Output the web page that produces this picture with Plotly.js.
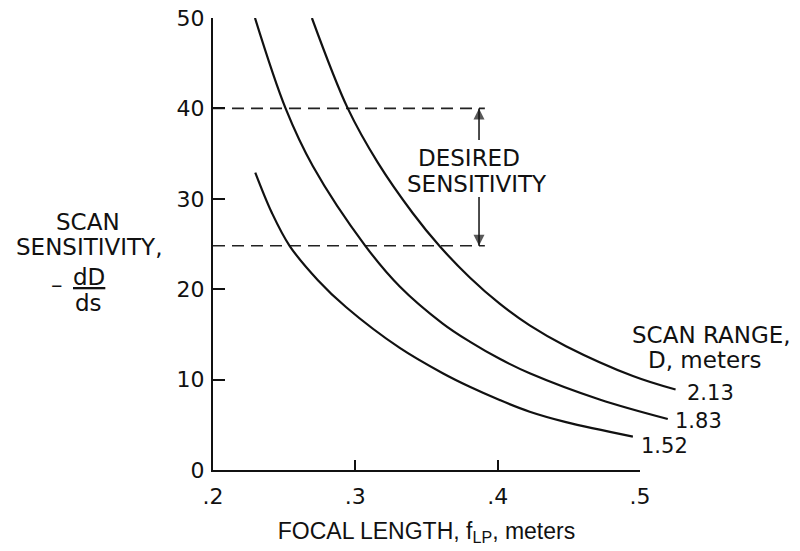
<!DOCTYPE html>
<html>
<head>
<meta charset="utf-8">
<script src="https://cdn.plot.ly/plotly-3.0.1.min.js"></script>
<style>html,body{margin:0;padding:0;background:#fff;}#chart{width:800px;height:551px;}</style>
</head>
<body>
<div id="chart"></div>
<script>
// ---- data ----
var rangeLabels = ['2.13', '1.83', '1.52'];
var focal213 = [0.2695, 0.2947, 0.3158, 0.3404, 0.359, 0.3804, 0.4014, 0.4225, 0.448, 0.495, 0.525];
var sens213  = [50, 40, 34.0, 28.4, 24.8, 21.3, 18.4, 16.0, 13.7, 10.4, 8.9];
var focal183 = [0.2295, 0.251, 0.2702, 0.307, 0.3312, 0.3614, 0.3804, 0.4014, 0.4225, 0.4716, 0.5195];
var sens183  = [50, 40, 33.6, 24.8, 20.3, 16.2, 14.2, 12.3, 10.7, 7.8, 5.64];
var focal152 = [0.2297, 0.2415, 0.2538, 0.2737, 0.2936, 0.3312, 0.3614, 0.3804, 0.4014, 0.4225, 0.448, 0.495];
var sens152  = [32.9, 28.4, 24.8, 21.0, 18.0, 13.5, 10.7, 9.2, 7.74, 6.45, 5.3, 3.7];
var desiredHigh = 40;
var desiredLow = 24.8;
var desiredXEnd = 0.391;
var arrowX = 0.3869;
var arrowTailHigh = 36.5;
var arrowTailLow = 30.2;
var xTickVals = [0.2, 0.3, 0.4, 0.5];
var xTickText = ['.2', '.3', '.4', '.5'];
var yTickVals = [0, 10, 20, 30, 40, 50];
var yTickText = ['0', '10', '20', '30', '40', '50'];

var INK = '#111111';
var LETTER = 'DejaVu Sans, Liberation Sans, sans-serif';
var TYPED = 'Liberation Sans, Arial, sans-serif';

function curve(xs, ys) {
  return {x: xs, y: ys, xaxis: 'x2', yaxis: 'y', type: 'scatter', mode: 'lines',
    line: {color: INK, width: 2.2, shape: 'spline', smoothing: 1}, hoverinfo: 'skip', showlegend: false};
}
function dashed(yv) {
  return {x: [xTickVals[0], desiredXEnd], y: [yv, yv], xaxis: 'x', yaxis: 'y', type: 'scatter', mode: 'lines',
    line: {color: '#222', width: 1.6, dash: '12px,7px'}, hoverinfo: 'skip', showlegend: false};
}
function arrow(tip, tail, sym) {
  return {x: [arrowX, arrowX], y: [tip, tail], xaxis: 'x', yaxis: 'y', type: 'scatter', mode: 'lines+markers',
    line: {color: INK, width: 1.5},
    marker: {symbol: [sym, 'line-ew'], size: [11, 0.1], color: INK, line: {width: 0, color: INK}},
    hoverinfo: 'skip', showlegend: false};
}

var data = [
  dashed(desiredHigh), dashed(desiredLow),
  arrow(desiredHigh, arrowTailHigh, 'arrow-up'), arrow(desiredLow, arrowTailLow, 'arrow-down'),
  curve(focal213, sens213), curve(focal183, sens183), curve(focal152, sens152)
];

var L = 213, R = 40, T = 18, B = 81, W = 800, H = 551;
var pw = W - L - R, ph = H - T - B;
var pxPerUnit = 427 / 0.3;
function px2paperX(px) { return (px - L) / pw; }
function px2paperY(py) { return (T + ph - py) / ph; }

function txt(text, px, py, size, font) {
  return {text: text, xref: 'paper', yref: 'paper', x: px2paperX(px), y: px2paperY(py),
    showarrow: false, xanchor: 'center', yanchor: 'middle',
    font: {family: font || LETTER, size: size || 23, color: INK}};
}

var ends = [[focal213, sens213, 35, -3], [focal183, sens183, 31, -2], [focal152, sens152, 32, -9]];
var annotations = [];
ends.forEach(function (e, i) {
  var n = e[0].length;
  annotations.push({text: rangeLabels[i], xref: 'x2', yref: 'y', x: e[0][n - 1], y: e[1][n - 1],
    xshift: e[2], yshift: e[3], showarrow: false, xanchor: 'center', yanchor: 'middle',
    font: {family: LETTER, size: 21, color: INK}});
});
annotations.push(txt('SCAN RANGE,', 711, 335));
annotations.push(txt('D, meters', 705, 360));
annotations.push(txt('DESIRED', 469, 157.5));
annotations.push(txt('SENSITIVITY', 476.7, 184));
annotations.push(txt('SCAN', 88.3, 221.5));
annotations.push(txt('SENSITIVITY,', 89, 246.7));
annotations.push(txt('<u>dD</u>', 88.5, 277));
annotations.push(txt('ds', 88, 303));
annotations.push(txt('\u2013', 57, 285));

var layout = {
  width: W, height: H,
  margin: {l: L, r: R, t: T, b: B, pad: 0},
  paper_bgcolor: '#fff', plot_bgcolor: 'rgba(0,0,0,0)',
  showlegend: false,
  xaxis: {domain: [0, 427 / pw], range: [0.2, 0.5], anchor: 'y',
    tickvals: xTickVals, ticktext: xTickText, ticks: 'inside', ticklen: 10, tickwidth: 2, tickcolor: INK,
    showline: true, linewidth: 2, linecolor: INK, showgrid: false, zeroline: false,
    tickfont: {family: LETTER, size: 22, color: INK}, ticklabelstandoff: 6,
    title: {text: 'FOCAL LENGTH, f<sub>LP</sub>, meters', font: {family: TYPED, size: 23, color: INK}, standoff: 14},
    fixedrange: true},
  xaxis2: {domain: [0, 1], range: [0.2, 0.2 + pw / pxPerUnit], anchor: 'y', visible: false, fixedrange: true},
  yaxis: {domain: [0, 1], range: [0, 50], anchor: 'x',
    tickvals: yTickVals, ticktext: yTickText, ticks: 'inside', ticklen: 12, tickwidth: 2, tickcolor: INK,
    showline: true, linewidth: 2, linecolor: INK, showgrid: false, zeroline: false,
    tickfont: {family: LETTER, size: 22, color: INK}, ticklabelstandoff: 2,
    fixedrange: true},
  annotations: annotations
};

Plotly.newPlot('chart', data, layout, {displayModeBar: false, staticPlot: true});
</script>
</body>
</html>
